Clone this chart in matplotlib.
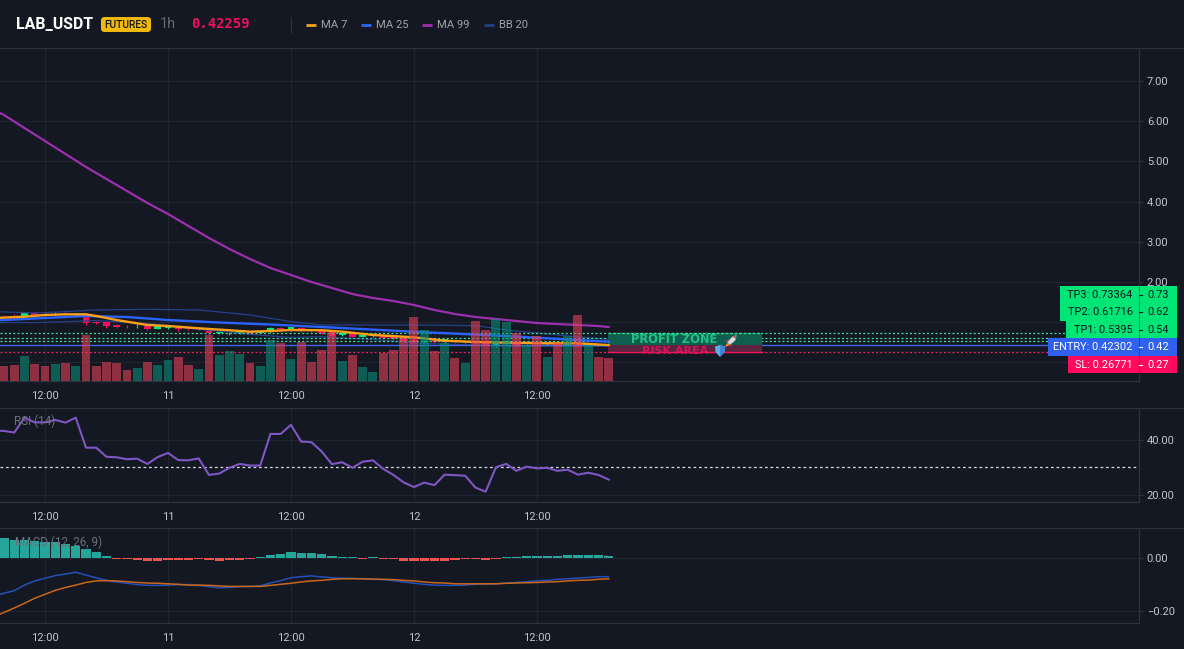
import matplotlib
matplotlib.use("Agg")
import matplotlib.pyplot as plt
from matplotlib.patches import Polygon, Rectangle, FancyBboxPatch
from matplotlib.lines import Line2D

# ---- data -------------------------------------------------------------
hours = list(range(-4, 56))
opens = [1.130, 1.138, 1.155, 1.238, 1.188, 1.196, 1.196, 1.188, 1.122, .997, .997, .931, .906, .898, .914, .831,
         .865, .865, .848, .823, .831, .724, .724, .724, .748, .740, .748, .848, .806, .865, .806, .806, .748, .674,
         .707, .641, .657, .666, .641, .624, .558, .500, .541, .508, .541, .500, .533, .500, .442, .475, .508, .467,
         .492, .458, .492, .442, .467, .425, .442, .442]
closes = [1.122, 1.113, 1.238, 1.155, 1.171, 1.204, 1.188, 1.196, .989, .989, .914, .889, .898, .906, .840, .898,
          .889, .823, .831, .848, .724, .765, .740, .790, .732, .765, .848, .823, .873, .806, .790, .724, .657, .724,
          .641, .690, .699, .608, .583, .525, .492, .533, .500, .574, .500, .525, .475, .425, .500, .525, .442, .516,
          .458, .492, .442, .475, .434, .450, .417, .42259]
highs = [1.171, 1.196, 1.246, 1.254, 1.221, 1.246, 1.254, 1.238, 1.180, 1.039, 1.014, .956, .931, .956, .931, .906,
         .914, .889, .865, .865, .848, .790, .765, .806, .765, .790, .889, .889, .889, .889, .831, .831, .765, .740,
         .724, .707, .724, .682, .657, .641, .574, .558, .558, .583, .558, .541, .558, .516, .516, .541, .525, .533,
         .508, .508, .508, .492, .483, .467, .458, .458]
lows = [1.088, 1.088, 1.155, 1.138, 1.122, 1.155, 1.138, 1.155, .931, .956, .848, .856, .856, .848, .806, .823,
        .840, .790, .806, .806, .682, .707, .690, .699, .699, .724, .724, .790, .790, .765, .765, .699, .641, .657,
        .624, .624, .641, .583, .558, .508, .475, .458, .475, .492, .475, .475, .458, .409, .392, .458, .425, .450,
        .442, .442, .425, .425, .417, .409, .400, .392]
volume = [15, 16, 25, 17, 15, 17, 18, 15, 46, 15, 19, 18, 11, 13, 19, 16, 21, 24, 16, 12, 46, 26, 30, 27, 18, 15,
          41, 38, 22, 39, 19, 31, 48, 20, 26, 14, 9, 28, 31, 43, 64, 51, 30, 38, 23, 18, 60, 51, 62, 59, 48, 36, 45,
          24, 38, 45, 66, 36, 24, 23]

ma7_hours = [-5, -2, 0, 2, 4, 5, 7, 10, 12, 15, 18, 20, 22, 24, 27, 29, 32, 36, 39, 42, 45, 49, 52, 55]
ma7 = [1.104, 1.137, 1.179, 1.196, 1.196, 1.154, 1.054, .930, .905, .848, .799, .764, .781, .806, .799, .764, .682,
       .624, .540, .507, .490, .475, .475, .430]
ma25_hours = [-5, 0, 4, 8, 12, 17, 22, 27, 36, 45, 55]
ma25 = [1.042, 1.104, 1.154, 1.129, 1.054, .992, .942, .880, .763, .656, .515]
ma99_hours = [-5, -4, -2, 0, 2, 4, 6, 8, 10, 12, 14, 16, 18, 20, 22, 24, 26, 28, 30, 32, 34, 36, 38, 40, 42, 44, 46,
              48, 50, 52, 54, 55]
ma99 = [6.279, 6.154, 5.831, 5.507, 5.184, 4.861, 4.562, 4.264, 3.965, 3.692, 3.393, 3.095, 2.821, 2.572, 2.348,
        2.174, 2.0, 1.851, 1.701, 1.602, 1.527, 1.428, 1.303, 1.204, 1.129, 1.080, 1.030, .980, .955, .930, .905, .881]
bb_hours = [-5, -1, 2, 5, 10, 15, 20, 24, 27, 32, 36, 42, 45, 50, 55]
bb_upper = [1.264, 1.230, 1.264, 1.304, 1.320, 1.304, 1.180, 1.014, .931, .931, .931, .914, .806, .683, .575]
bb_lower = [.990, .990, 1.014, 1.039, .971, .824, .700, .620, .640, .570, .480, .432, .410, .400, .410]

tp3, tp2, tp1, entry, stop = 0.73364, 0.61716, 0.5395, 0.42302, 0.26771
level_tags = [("TP3: 0.73364", "0.73", 1060, "#00e676", "#10151d"),
              ("TP2: 0.61716", "0.62", 1060, "#00e676", "#10151d"),
              ("TP1: 0.5395", "0.54", 1066, "#00e676", "#10151d"),
              ("ENTRY: 0.42302", "0.42", 1048, "#2f60ee", "#ffffff"),
              ("SL: 0.26771", "0.27", 1068, "#ff0a5c", "#ffffff")]

rsi_hours = list(range(-5, 56))
rsi = [43.4, 43.3, 42.7, 48.1, 46.4, 46.4, 47.3, 46.3, 48.1, 37.2, 37.2, 33.9, 33.7, 33.0, 33.2, 31.3, 33.8, 35.3,
       32.7, 32.6, 33.3, 27.3, 27.8, 29.9, 31.3, 30.7, 30.7, 42.2, 42.2, 45.5, 39.4, 39.2, 35.8, 31.2, 31.9, 29.9,
       32.1, 32.6, 29.5, 27.3, 24.6, 22.9, 24.5, 23.6, 27.4, 27.2, 27.0, 22.7, 21.2, 30.1, 31.3, 28.8, 30.3, 29.7,
       29.9, 28.8, 29.2, 27.4, 28.1, 27.3, 25.6]

macd_hist = [.076, .068, .068, .066, .062, .060, .053, .047, .034, .023, .008, -.004, -.004, -.009, -.010, -.010,
             -.006, -.006, -.008, -.004, -.006, -.010, -.006, -.006, -.004, .004, .010, .015, .023, .018, .018, .014,
             .008, .005, .004, -.004, .004, -.004, -.005, -.010, -.010, -.010, -.010, -.010, -.006, -.004, -.004,
             -.008, -.004, .005, .005, .009, .009, .009, .009, .013, .013, .013, .013, .009]
macd_line = [-.143, -.134, -.124, -.103, -.087, -.077, -.067, -.061, -.054, -.065, -.075, -.085, -.091, -.096, -.101,
             -.104, -.104, -.103, -.101, -.101, -.104, -.109, -.113, -.112, -.109, -.108, -.106, -.095, -.086, -.075,
             -.071, -.068, -.072, -.075, -.077, -.077, -.079, -.081, -.082, -.086, -.091, -.096, -.100, -.103, -.104,
             -.104, -.103, -.100, -.099, -.098, -.096, -.093, -.090, -.087, -.085, -.081, -.079, -.076, -.074, -.071,
             -.071]
macd_signal = [-.223, -.207, -.190, -.172, -.153, -.138, -.123, -.112, -.103, -.093, -.087, -.086, -.087, -.090, -.093,
               -.095, -.096, -.098, -.100, -.103, -.103, -.104, -.106, -.108, -.108, -.108, -.108, -.104, -.100, -.096,
               -.091, -.087, -.085, -.081, -.079, -.079, -.079, -.080, -.081, -.082, -.085, -.087, -.091, -.094, -.095,
               -.098, -.098, -.098, -.098, -.098, -.096, -.095, -.094, -.093, -.091, -.090, -.087, -.085, -.084, -.081,
               -.079]

time_ticks = [0, 12, 24, 36, 48]
time_labels = ["12:00", "11", "12:00", "12", "12:00"]
price_ticks = [0, 1, 2, 3, 4, 5, 6, 7]
price_labels = ["", "", "2.00", "3.00", "4.00", "5.00", "6.00", "7.00"]
legend_items = [("MA 7", "#f7a01d", 306), ("MA 25", "#2f66f5", 361), ("MA 99", "#9c2fae", 422), ("BB 20", "#263f88", 484)]

# ---- page and panels ---------------------------------------------------
W, H = 1184, 649
BG, GRID, EDGE, TXT = "#141822", "#20242f", "#2e323d", "#c2c5cc"
UP, DOWN = "#00e676", "#ff0a5c"
AXIS_SIZE = 8.0
plt.rcParams["font.family"] = ["Roboto", "DejaVu Sans"]
fig = plt.figure(figsize=(W / 100, H / 100), dpi=100, facecolor=BG)
fx = lambda px: px / W
fy = lambda py: 1 - py / H
XLIM = (-4.39, 106.7)


def panel(top, bottom, ylim, yticks, ylabels, pad_x):
    ax = fig.add_axes([0, fy(bottom), fx(1138.5), (bottom - top) / H], facecolor=BG)
    ax.set_xlim(*XLIM)
    ax.set_ylim(*ylim)
    ax.set_xticks(time_ticks, time_labels)
    ax.set_yticks(yticks, ylabels)
    ax.yaxis.tick_right()
    ax.grid(True, color=GRID, lw=0.9)
    ax.set_axisbelow(True)
    ax.tick_params(axis="x", length=0, pad=pad_x, labelsize=AXIS_SIZE, labelcolor=TXT)
    ax.tick_params(axis="y", length=3, width=0.8, color=EDGE, pad=3, labelsize=AXIS_SIZE, labelcolor=TXT)
    for name in ("left", "top"):
        ax.spines[name].set_visible(False)
    for name in ("right", "bottom"):
        ax.spines[name].set_color(EDGE)
        ax.spines[name].set_linewidth(0.9)
    return ax


ax = panel(49, 381, (-0.463, 7.796), price_ticks, price_labels, 7)
ax_rsi = panel(407.5, 502.3, (17.35, 51.8), [20, 40], ["20.00", "40.00"], 7)
ax_macd = panel(528, 623, (-0.247, 0.114), [-0.2, 0.0], ["\u22120.20", "0.00"], 7)

for py in (48, 407.5, 528):
    fig.add_artist(Line2D([0, 1], [fy(py), fy(py)], color=EDGE, lw=0.9, transform=fig.transFigure))

# ---- price panel -------------------------------------------------------
for h, o, c, hi, lo in zip(hours, opens, closes, highs, lows):
    col = UP if c >= o else DOWN
    ax.vlines(h, lo, hi, color=col, lw=0.8, zorder=3)
    ax.bar(h, max(abs(c - o), 0.016), bottom=min(o, c), width=0.66, color=col, lw=0, zorder=3)

ax.plot(bb_hours, bb_upper, color="#263f88", lw=0.9, zorder=4)
ax.plot(bb_hours, bb_lower, color="#263f88", lw=0.9, zorder=4)

for level in (tp3, tp2, tp1):
    ax.axhline(level, color="#39e29a", lw=0.9, ls=(0, (1.6, 1.8)), zorder=4)
ax.axhline(entry, color="#3f66e8", lw=1.0, zorder=4)
ax.axhline(stop, color="#f0215f", lw=0.9, ls=(0, (1.6, 1.8)), zorder=4)

ax.add_patch(Rectangle((54.9, entry), 15.1, tp3 - entry, color="#0f5f4e", lw=0, zorder=4.5))
ax.add_patch(Rectangle((54.9, stop), 15.1, entry - stop, color="#5a2440", lw=0, zorder=4.5))
ax.plot([54.9, 70], [tp3, tp3], color="#39e29a", lw=0.9, ls=(0, (2.4, 1.2)), zorder=5)
ax.plot([54.9, 70], [stop, stop], color="#f0145c", lw=1.0, zorder=5)

ax.plot(ma25_hours, ma25, color="#2962ff", lw=1.7, zorder=5)
ax.plot(ma99_hours, ma99, color="#9c2fae", lw=1.6, zorder=5)
ax.plot(ma7_hours, ma7, color="#ff9f1a", lw=1.7, zorder=6)

ax_vol = ax.twinx()
ax_vol.set_ylim(0, 332)
ax_vol.axis("off")
ax.yaxis.tick_right()
bar_cols = ["#0a8f7a" if c >= o else "#e8405a" for o, c in zip(opens, closes)]
ax_vol.bar(hours, volume, width=0.87, color=bar_cols, alpha=0.58, lw=0)

# labels inside the target and risk zones
ax.text(61.4, 0.575, "PROFIT ZONE", color="#1fc285", fontsize=8.3, fontweight="bold",
        family="DejaVu Sans", ha="center", va="center", zorder=8)
ax.text(61.45, 0.29, "RISK AREA", color="#d8125a", fontsize=8.0, fontweight="bold",
        family="DejaVu Sans", ha="center", va="center", zorder=8)


def shape(points, color, z=20):
    pts = [(fx(x), fy(y)) for x, y in points]
    fig.add_artist(Polygon(pts, closed=True, facecolor=color, edgecolor="none", transform=fig.transFigure, zorder=z))


# rocket icon
shape([(727, 342.5), (732, 337), (736.5, 335), (735.5, 340), (730.5, 345)], "#d9dde3", z=20)
shape([(732.5, 336.8), (736.5, 335), (735.7, 339)], "#e2505a", z=21)
shape([(726, 340.5), (729.5, 339.5), (727.5, 343)], "#d2404e", z=21)
shape([(730, 344.5), (732, 342.5), (731, 346.5)], "#d2404e", z=21)
shape([(724.5, 347), (727.5, 343), (730, 345)], "#f29a3c", z=21)
# shield icon
shape([(715, 346.5), (720, 345), (725, 346.5), (724.5, 352), (720, 357), (715.5, 352)], "#5aaee8")
shape([(720, 345), (725, 346.5), (724.5, 352), (720, 357)], "#3d88cf", z=21)

# level tags stacked on the price scale
tag_top = 286
tag_h = 17.4
for i, (name, val, left, fill, ink) in enumerate(level_tags):
    top = tag_top + i * tag_h
    fig.add_artist(Rectangle((fx(left), fy(top + tag_h)), fx(1177 - left), tag_h / H, facecolor=fill, edgecolor="none",
                             transform=fig.transFigure, zorder=30))
    cy = fy(top + tag_h / 2 + 0.4)
    fig.text(fx(1132.5), cy, name, color=ink, fontsize=7.9, ha="right", va="center", zorder=31)
    fig.text(fx(1147), cy, val, color=ink, fontsize=7.9, ha="left", va="center", zorder=31)
    fig.add_artist(Line2D([fx(1138.5), fx(1138.5)], [fy(top), fy(top + tag_h)], color="#10151d", lw=0.5, alpha=0.5,
                          transform=fig.transFigure, zorder=31))
    fig.add_artist(Line2D([fx(1139), fx(1142)], [cy, cy], color=ink, lw=0.8, transform=fig.transFigure, zorder=31))

# ---- RSI panel ---------------------------------------------------------
ax_rsi.plot(rsi_hours, rsi, color="#7e57c2", lw=1.5, zorder=4)
ax_rsi.axhline(30, color="#d8dae0", lw=0.9, ls=(0, (2.2, 2.2)), zorder=3)
fig.text(fx(14), fy(421), "RSI (14)", color="#6c707b", fontsize=8.4, ha="left", va="center")

# ---- MACD panel --------------------------------------------------------
hist_cols = ["#26a69a" if v >= 0 else "#ef5350" for v in macd_hist]
ax_macd.bar(hours, macd_hist, width=0.9, color=hist_cols, lw=0, zorder=3)
ax_macd.plot(rsi_hours, macd_line, color="#2450b8", lw=1.1, zorder=4)
ax_macd.plot(rsi_hours, macd_signal, color="#c9671c", lw=1.1, zorder=5)
fig.text(fx(15), fy(542), "MACD (12, 26, 9)", color="#6c707b", fontsize=8.4, ha="left", va="center", zorder=10)

# ---- header ------------------------------------------------------------
hy = fy(24.5)
fig.text(fx(16), hy, "LAB_USDT", color="#ffffff", fontsize=11.4, fontweight="bold", ha="left", va="center")
fig.add_artist(FancyBboxPatch((fx(103), fy(30)), fx(46), 11 / H, boxstyle="round,pad=0.0017,rounding_size=0.003",
                              facecolor="#f0b90b", edgecolor="none", transform=fig.transFigure, mutation_aspect=1.8))
fig.text(fx(126), hy, "FUTURES", color="#14161c", fontsize=7.3, fontweight="medium", ha="center", va="center", zorder=5)
fig.text(fx(160), hy, "1h", color="#646873", fontsize=10.4, ha="left", va="center")
fig.text(fx(191), hy, "0.42259", color="#f0105c", fontsize=10, fontweight="bold", family="DejaVu Sans Mono",
         ha="left", va="center")
fig.add_artist(Line2D([fx(290.5)] * 2, [fy(17), fy(32)], color=EDGE, lw=0.9, transform=fig.transFigure))
for label, col, x0 in legend_items:
    fig.add_artist(Line2D([fx(x0), fx(x0 + 10)], [hy, hy], color=col, lw=2.0, solid_capstyle="butt",
                          transform=fig.transFigure))
    fig.text(fx(x0 + 15), hy, label, color="#a0a3ac", fontsize=8.1, ha="left", va="center")

fig.savefig("out.png", dpi=100, facecolor=BG)
